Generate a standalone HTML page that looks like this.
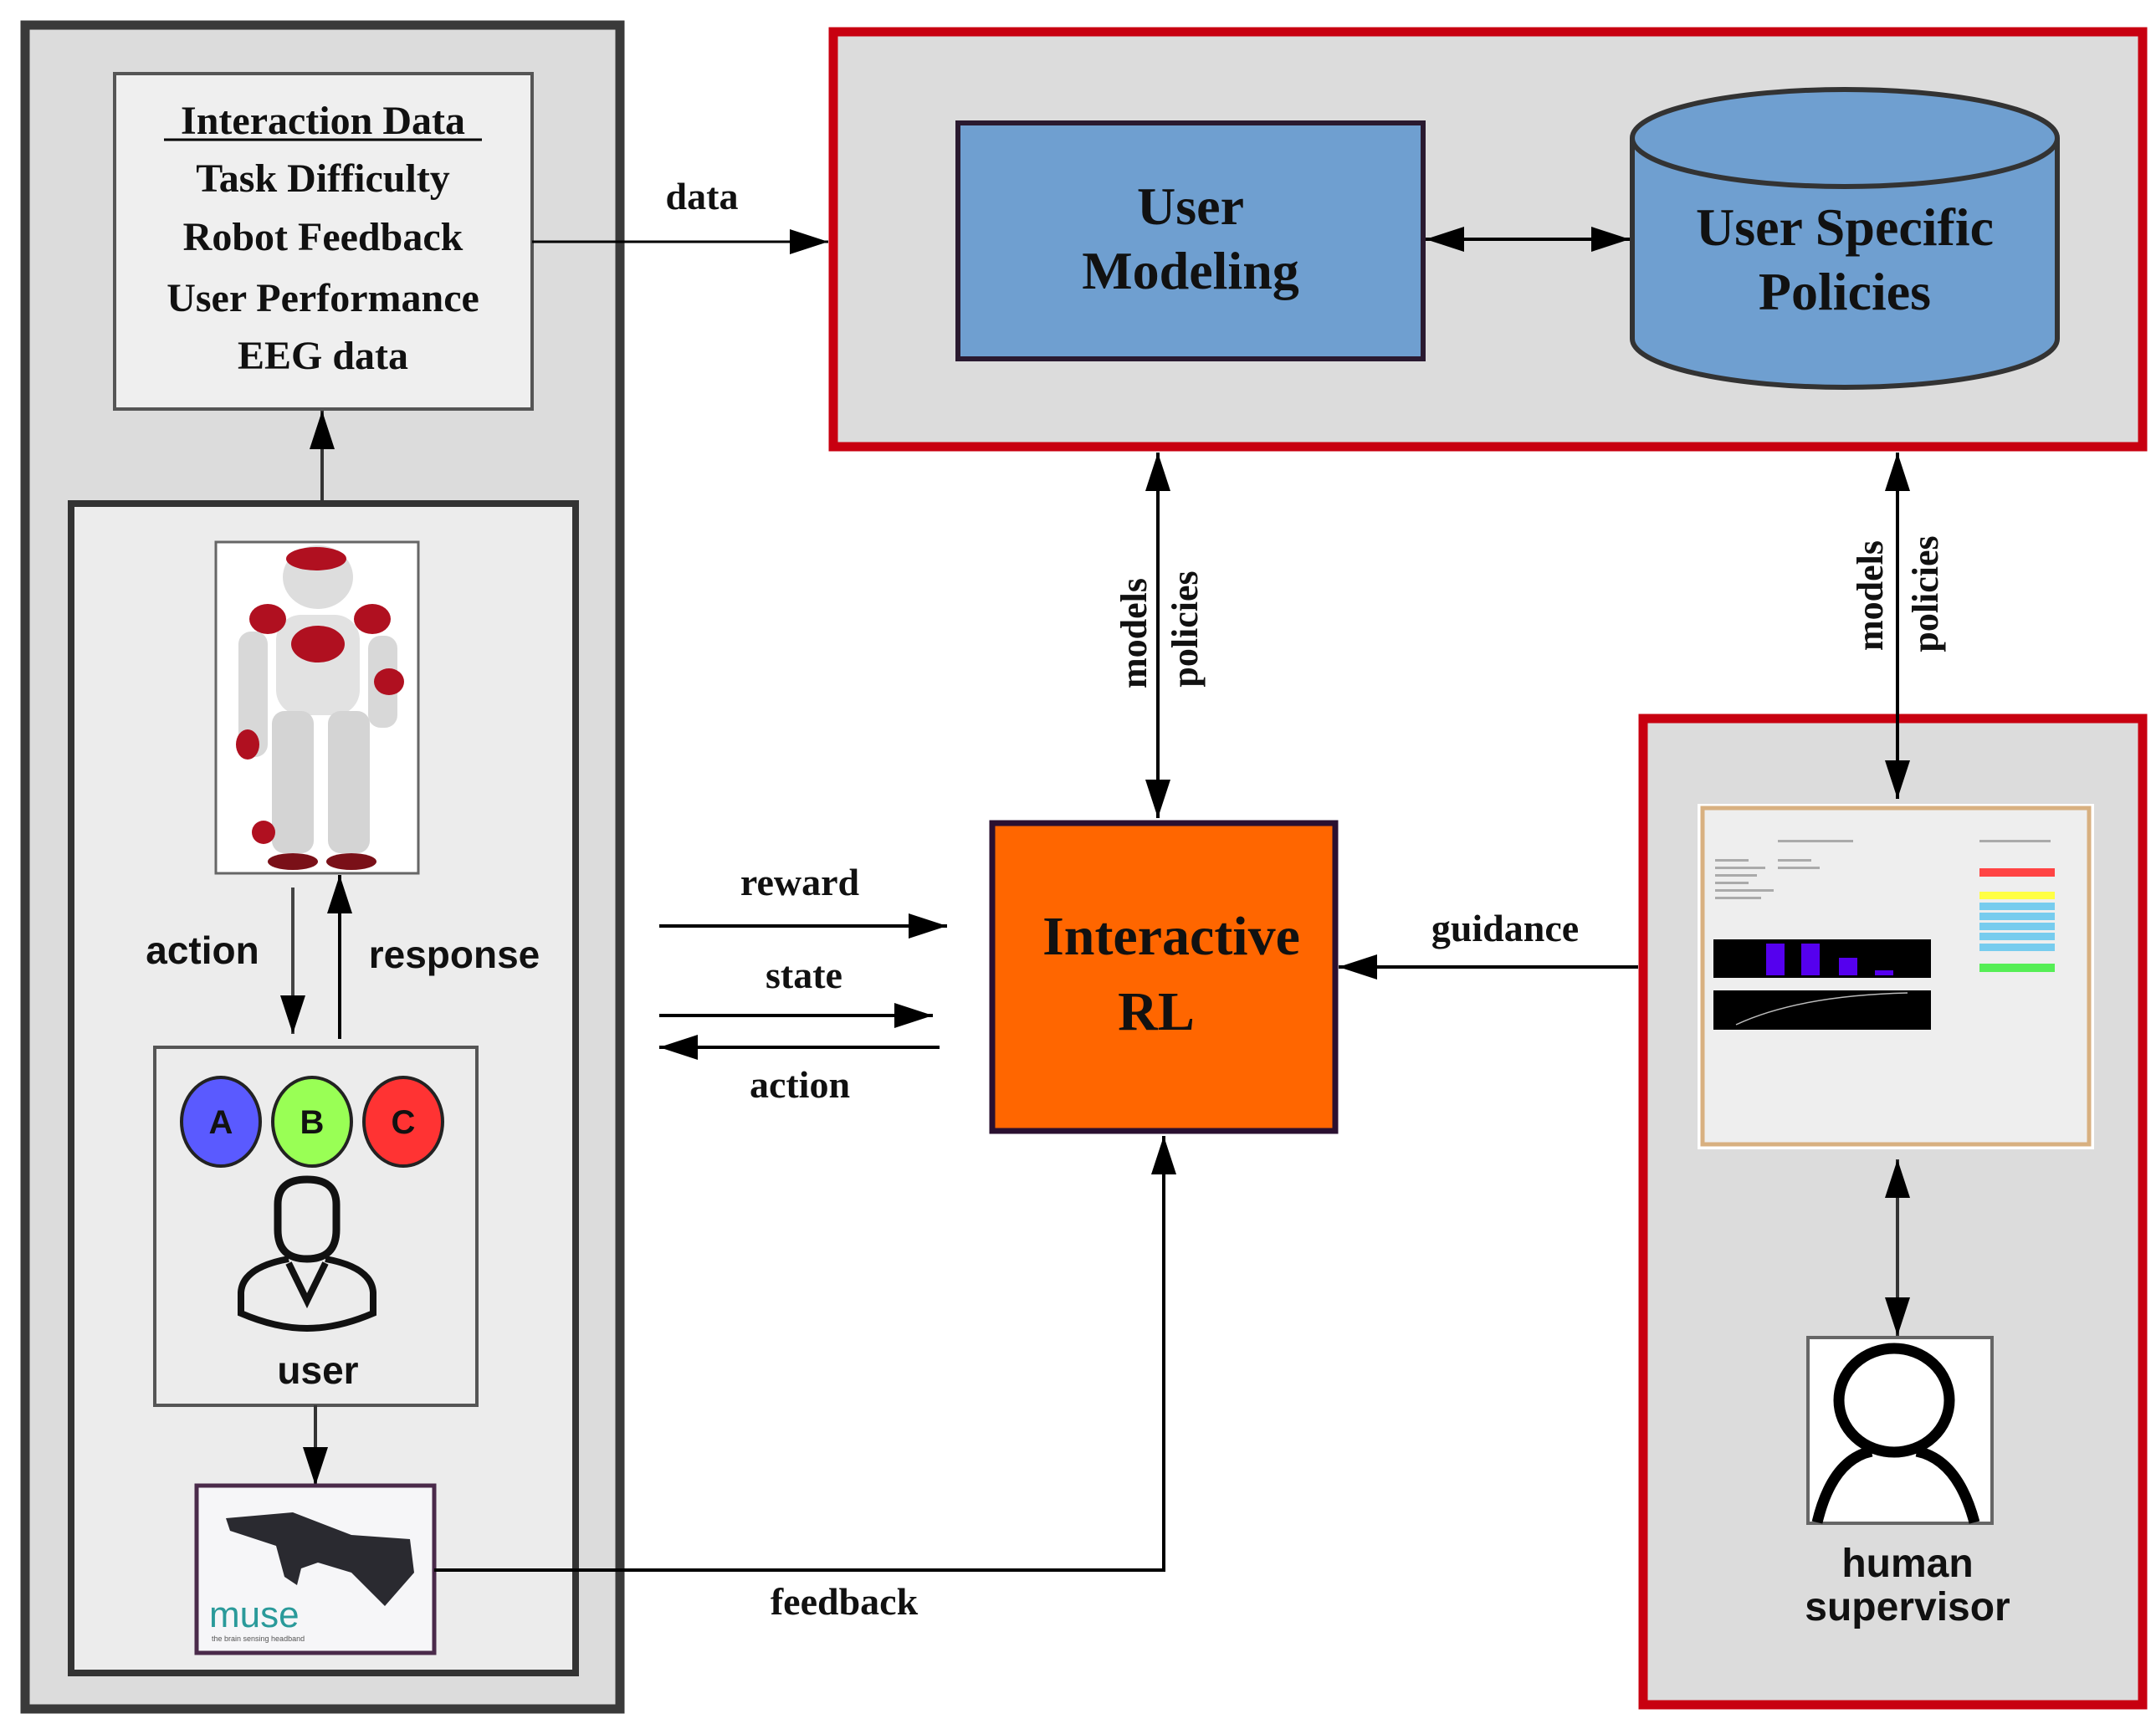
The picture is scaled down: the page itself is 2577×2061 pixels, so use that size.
<!DOCTYPE html>
<html><head><meta charset="utf-8"><style>
html,body{margin:0;padding:0;background:#fff;}
svg{display:block;}
.serif{font-family:"Liberation Serif",serif;font-weight:bold;fill:#111;}
.sans{font-family:"Liberation Sans",sans-serif;font-weight:bold;fill:#111;}
</style></head><body>
<svg width="2577" height="2061" viewBox="0 0 2577 2061" xmlns="http://www.w3.org/2000/svg">
<defs>
<marker id="a" viewBox="0 0 10 10" refX="10" refY="5" markerWidth="46" markerHeight="30" orient="auto-start-reverse" markerUnits="userSpaceOnUse" preserveAspectRatio="none">
<path d="M0,0 L10,5 L0,10 z" fill="#000"/></marker>
</defs>

<!-- Left outer box -->
<rect x="30" y="30" width="711" height="2013" fill="#dcdcdc" stroke="#3a3a3a" stroke-width="11"/>
<rect x="137" y="88" width="499" height="401" fill="#efefef" stroke="#555" stroke-width="4"/>
<g class="serif" font-size="48" text-anchor="middle">
<text x="386" y="160">Interaction Data</text>
<text x="386" y="229">Task Difficulty</text>
<text x="386" y="299">Robot Feedback</text>
<text x="386" y="372">User Performance</text>
<text x="386" y="441">EEG data</text>
</g>
<line x1="196" y1="167" x2="576" y2="167" stroke="#000" stroke-width="3"/>
<line x1="385" y1="600" x2="385" y2="491" stroke="#333" stroke-width="4" marker-end="url(#a)"/>

<rect x="85" y="602" width="603" height="1398" fill="#ececec" stroke="#333" stroke-width="8"/>

<!-- robot image -->
<rect x="258" y="648" width="242" height="396" fill="#fff" stroke="#666" stroke-width="3"/>
<g>
<ellipse cx="380" cy="690" rx="42" ry="38" fill="#ddd"/>
<ellipse cx="378" cy="668" rx="36" ry="14" fill="#b01020"/>
<rect x="330" y="735" width="100" height="120" rx="30" fill="#e2e2e2"/>
<ellipse cx="380" cy="770" rx="32" ry="22" fill="#b01020"/>
<ellipse cx="320" cy="740" rx="22" ry="18" fill="#b01020"/>
<ellipse cx="445" cy="740" rx="22" ry="18" fill="#b01020"/>
<rect x="285" y="755" width="35" height="150" rx="15" fill="#d8d8d8"/>
<rect x="440" y="760" width="35" height="110" rx="15" fill="#d8d8d8"/>
<ellipse cx="465" cy="815" rx="18" ry="16" fill="#b01020"/>
<ellipse cx="296" cy="890" rx="14" ry="18" fill="#b01020"/>
<rect x="325" y="850" width="50" height="170" rx="15" fill="#d4d4d4"/>
<rect x="392" y="850" width="50" height="170" rx="15" fill="#d4d4d4"/>
<ellipse cx="350" cy="1030" rx="30" ry="10" fill="#7a1018"/>
<ellipse cx="420" cy="1030" rx="30" ry="10" fill="#7a1018"/>
<ellipse cx="315" cy="995" rx="14" ry="14" fill="#b01020"/>
</g>

<line x1="350" y1="1061" x2="350" y2="1236" stroke="#444" stroke-width="4" marker-end="url(#a)"/>
<line x1="406" y1="1242" x2="406" y2="1046" stroke="#000" stroke-width="4" marker-end="url(#a)"/>
<text class="sans" x="242" y="1152" font-size="46" text-anchor="middle">action</text>
<text class="sans" x="543" y="1157" font-size="46" text-anchor="middle">response</text>

<!-- user box -->
<rect x="185" y="1252" width="385" height="428" fill="#ececec" stroke="#555" stroke-width="4"/>
<ellipse cx="264" cy="1341" rx="47" ry="53" fill="#5a5aff" stroke="#222" stroke-width="4"/>
<ellipse cx="373" cy="1341" rx="47" ry="53" fill="#99ff55" stroke="#222" stroke-width="4"/>
<ellipse cx="482" cy="1341" rx="47" ry="53" fill="#ff3333" stroke="#222" stroke-width="4"/>
<g class="sans" font-size="40" text-anchor="middle" font-weight="normal">
<text x="264" y="1355">A</text><text x="373" y="1355">B</text><text x="482" y="1355">C</text>
</g>
<path d="M332,1440 Q332,1410 367,1410 Q402,1410 402,1440 L402,1470 Q402,1505 367,1505 Q332,1505 332,1470 Z" fill="none" stroke="#111" stroke-width="9"/>
<path d="M345,1505 Q290,1515 288,1545 L288,1570 Q330,1588 367,1588 Q404,1588 446,1570 L446,1545 Q444,1515 389,1505 M345,1510 L367,1555 L389,1510" fill="none" stroke="#111" stroke-width="8"/>
<text class="sans" x="380" y="1654" font-size="46" text-anchor="middle">user</text>

<line x1="377" y1="1680" x2="377" y2="1776" stroke="#333" stroke-width="4" marker-end="url(#a)"/>
<rect x="235" y="1776" width="284" height="200" fill="#f6f6f8" stroke="#4a2a4a" stroke-width="5"/>
<path d="M270,1815 L350,1808 L420,1835 L490,1840 L495,1880 L460,1920 L440,1900 L420,1880 L380,1868 L360,1875 L355,1895 L340,1885 L330,1848 L275,1830 Z" fill="#2a2a30"/>
<text x="250" y="1945" font-family="Liberation Sans,sans-serif" font-size="44" fill="#2a9a9a">muse</text>
<text x="253" y="1962" font-family="Liberation Sans,sans-serif" font-size="9" fill="#555">the brain sensing headband</text>

<polyline points="519,1877 1391,1877 1391,1358" fill="none" stroke="#000" stroke-width="4" marker-end="url(#a)"/>
<text class="serif" x="1009" y="1930" font-size="46" text-anchor="middle">feedback</text>

<!-- top red box -->
<rect x="996" y="38" width="1565" height="496" fill="#dcdcdc" stroke="#c80010" stroke-width="11"/>
<line x1="636" y1="289" x2="990" y2="289" stroke="#000" stroke-width="3" marker-end="url(#a)"/>
<text class="serif" x="839" y="250" font-size="46" text-anchor="middle">data</text>
<rect x="1145" y="147" width="556" height="282" fill="#6f9fd0" stroke="#2a1a30" stroke-width="6"/>
<g class="serif" font-size="64" text-anchor="middle">
<text x="1423" y="268">User</text><text x="1423" y="345">Modeling</text></g>
<line x1="1704" y1="286" x2="1948" y2="286" stroke="#000" stroke-width="4" marker-start="url(#a)" marker-end="url(#a)"/>
<path d="M1951,165 L1951,405 A254,58 0 0 0 2459,405 L2459,165" fill="#6f9fd0" stroke="#333" stroke-width="6"/>
<ellipse cx="2205" cy="165" rx="254" ry="58" fill="#6f9fd0" stroke="#333" stroke-width="6"/>
<g class="serif" font-size="64" text-anchor="middle">
<text x="2205" y="293">User Specific</text><text x="2205" y="370">Policies</text></g>

<line x1="1384" y1="541" x2="1384" y2="978" stroke="#000" stroke-width="4" marker-start="url(#a)" marker-end="url(#a)"/>
<text class="serif" font-size="44" text-anchor="middle" transform="translate(1370,757) rotate(-90)">models</text>
<text class="serif" font-size="44" text-anchor="middle" transform="translate(1431,752) rotate(-90)">policies</text>

<!-- Interactive RL -->
<rect x="1186" y="984" width="410" height="368" fill="#ff6600" stroke="#2a1030" stroke-width="7"/>
<g class="serif" font-size="66" text-anchor="middle">
<text x="1400" y="1141">Interactive</text><text x="1382" y="1231">RL</text></g>

<line x1="788" y1="1107" x2="1132" y2="1107" stroke="#000" stroke-width="4" marker-end="url(#a)"/>
<text class="serif" x="956" y="1070" font-size="46" text-anchor="middle">reward</text>
<line x1="788" y1="1214" x2="1115" y2="1214" stroke="#000" stroke-width="4" marker-end="url(#a)"/>
<text class="serif" x="961" y="1181" font-size="46" text-anchor="middle">state</text>
<line x1="1123" y1="1252" x2="788" y2="1252" stroke="#000" stroke-width="4" marker-end="url(#a)"/>
<text class="serif" x="956" y="1312" font-size="46" text-anchor="middle">action</text>

<!-- right red box -->
<rect x="1964" y="859" width="597" height="1179" fill="#dcdcdc" stroke="#c80010" stroke-width="11"/>
<line x1="1958" y1="1156" x2="1600" y2="1156" stroke="#000" stroke-width="4" marker-end="url(#a)"/>
<text class="serif" x="1799" y="1125" font-size="46" text-anchor="middle">guidance</text>

<!-- right vertical arrow (drawn after red box) -->
<line x1="2268" y1="541" x2="2268" y2="955" stroke="#000" stroke-width="4" marker-start="url(#a)" marker-end="url(#a)"/>
<text class="serif" font-size="44" text-anchor="middle" transform="translate(2250,712) rotate(-90)">models</text>
<text class="serif" font-size="44" text-anchor="middle" transform="translate(2316,710) rotate(-90)">policies</text>

<!-- screenshot -->
<rect x="2029" y="961" width="474" height="413" fill="#fff"/>
<rect x="2035" y="966" width="462" height="402" fill="#eeeeee" stroke="#d8b080" stroke-width="5"/>
<rect x="2048" y="1123" width="260" height="46" fill="#000"/>
<rect x="2111" y="1128" width="22" height="38" fill="#5500ee"/>
<rect x="2153" y="1128" width="22" height="38" fill="#5500ee"/>
<rect x="2198" y="1145" width="22" height="21" fill="#5500ee"/>
<rect x="2241" y="1160" width="22" height="6" fill="#5500ee"/>
<rect x="2048" y="1184" width="260" height="47" fill="#000"/>
<path d="M2075,1225 Q2150,1190 2280,1187" stroke="#bbb" stroke-width="1.5" fill="none"/>
<rect x="2366" y="1038" width="90" height="10" fill="#ff4444"/>
<rect x="2366" y="1066" width="90" height="9" fill="#ffff44"/>
<rect x="2366" y="1079" width="90" height="9" fill="#77ccee"/>
<rect x="2366" y="1091" width="90" height="9" fill="#77ccee"/>
<rect x="2366" y="1103" width="90" height="9" fill="#77ccee"/>
<rect x="2366" y="1115" width="90" height="9" fill="#77ccee"/>
<rect x="2366" y="1128" width="90" height="9" fill="#77ccee"/>
<rect x="2366" y="1152" width="90" height="10" fill="#55ee55"/>
<g fill="#aaa">
<rect x="2050" y="1027" width="40" height="3"/><rect x="2050" y="1036" width="60" height="3"/>
<rect x="2050" y="1045" width="50" height="3"/><rect x="2050" y="1054" width="40" height="3"/>
<rect x="2050" y="1063" width="70" height="3"/><rect x="2050" y="1072" width="55" height="3"/>
<rect x="2125" y="1027" width="40" height="3"/><rect x="2125" y="1036" width="50" height="3"/>
<rect x="2125" y="1004" width="90" height="3"/><rect x="2366" y="1004" width="85" height="3"/>
</g>

<line x1="2268" y1="1386" x2="2268" y2="1597" stroke="#333" stroke-width="4" marker-start="url(#a)" marker-end="url(#a)"/>
<rect x="2161" y="1599" width="220" height="222" fill="#fff" stroke="#666" stroke-width="4"/>
<ellipse cx="2264" cy="1674" rx="66" ry="62" fill="#fff" stroke="#000" stroke-width="13"/>
<path d="M2172,1820 Q2190,1745 2237,1735 M2291,1735 Q2340,1745 2360,1820" fill="none" stroke="#000" stroke-width="13"/>
<g class="sans" font-size="48" text-anchor="middle">
<text x="2280" y="1885">human</text><text x="2280" y="1937">supervisor</text></g>
</svg>
</body></html>
